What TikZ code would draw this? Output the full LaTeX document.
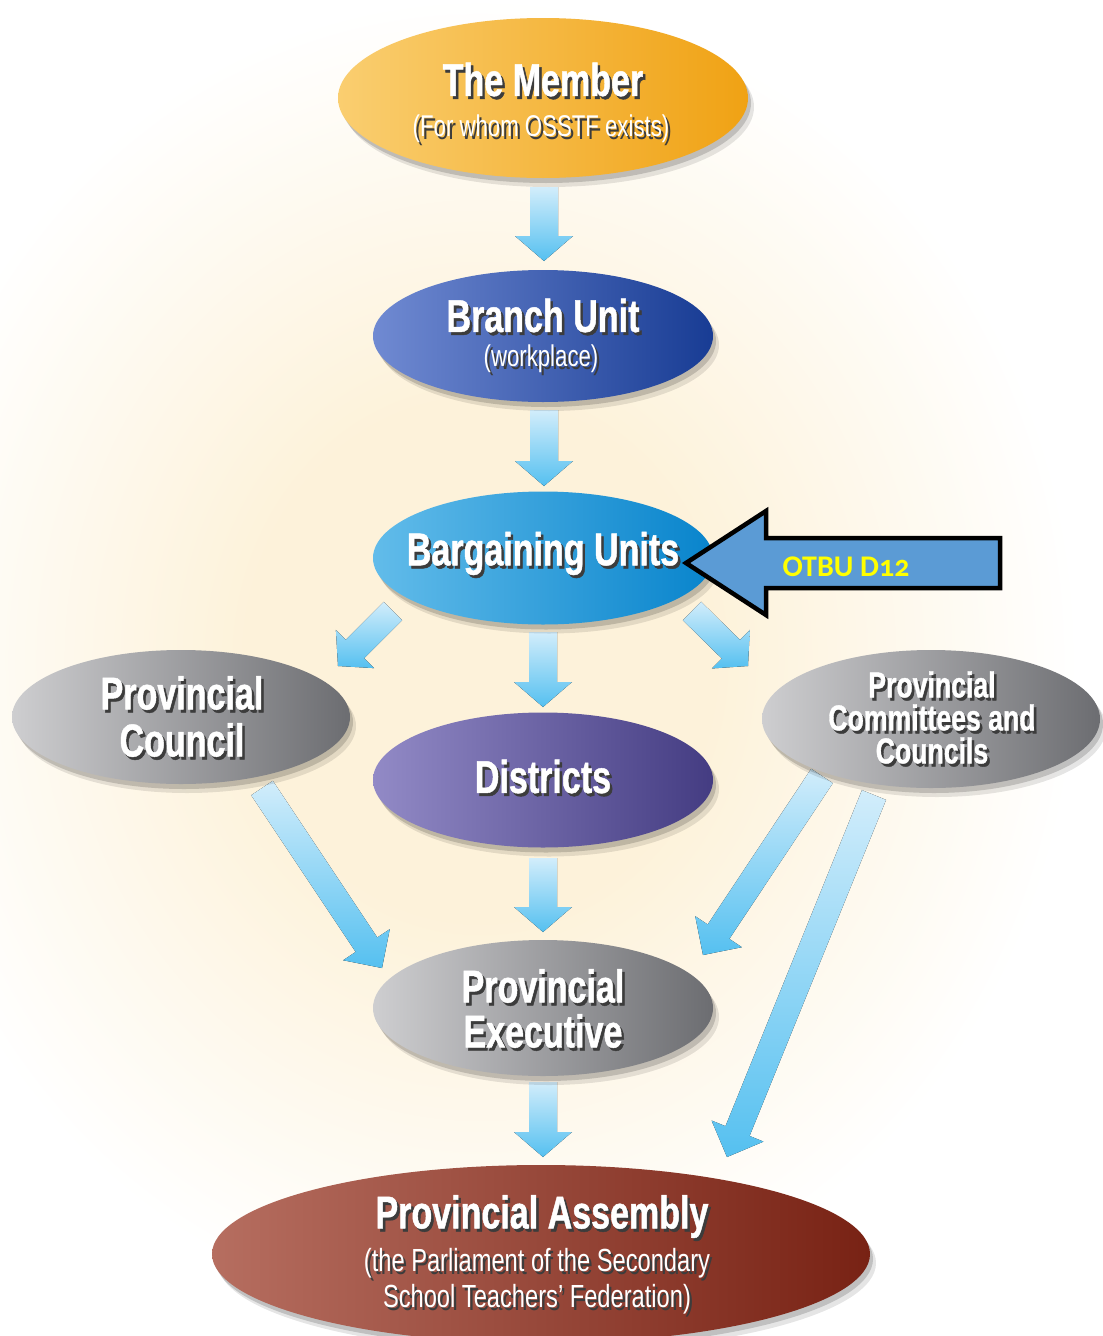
\documentclass[tikz,border=0pt]{standalone}
\usepackage{fontspec}
\setmainfont{Liberation Sans}
\newfontfamily\condb[FakeStretch=0.74,FakeBold=1]{Liberation Sans Bold}
\newfontfamily\condr[FakeStretch=0.74]{Liberation Sans}
\newfontfamily\calib[Numbers=OldStyle]{Carlito}
\usetikzlibrary{shapes.geometric,shadows,calc}
\definecolor{bgc}{HTML}{FDF2DA}
\definecolor{arrlight}{HTML}{D2EDFB}
\definecolor{arrdark}{HTML}{55C0F0}
\definecolor{txtshadow}{HTML}{3C3C3C}
\definecolor{calloutfill}{HTML}{5B9BD5}
\definecolor{calloutyellow}{HTML}{FFFF00}
\pgfdeclareradialshading{glow}{\pgfpoint{0bp}{0bp}}{color(0bp)=(bgc); color(9bp)=(bgc); color(23bp)=(white); color(25bp)=(white); color(50bp)=(white)}
\newcommand\shtxt[1]{\makebox[0pt][l]{\kern2.5pt\raisebox{-3pt}{\textcolor{txtshadow}{#1}}}#1}
\tikzset{
  oval/.style={ellipse, inner sep=0pt,
    drop shadow={shadow xshift=6pt, shadow yshift=-9pt, opacity=0.10, fill=black},
    drop shadow={shadow xshift=3pt, shadow yshift=-5pt, opacity=0.16, fill=black}},
  ttl/.style={text=white, inner sep=0pt, align=center,
    font=\condb\fontsize{46}{47}\selectfont},
  subttl/.style={text=white, inner sep=0pt, align=center,
    font=\condr\fontsize{30}{36}\selectfont},
  fatarrow/.style={shading=axis, top color=arrlight, bottom color=arrdark, draw=none},
  callout/.style={line width=4.5pt, line join=miter, draw=black, fill=calloutfill},
}
% #1 from, #2 to, #3 shaft half width, #4 head half width, #5 head length
\newcommand\fatarr[5]{%
  \coordinate (#1-#2-h) at ($(#2)!#5!(#1)$);
  \fill[fatarrow] ($(#1)!#3!90:(#2)$) -- ($(#1-#2-h)!#3!90:(#2)$) -- ($(#1-#2-h)!#4!90:(#2)$)
    -- (#2) -- ($(#1-#2-h)!#4!-90:(#2)$) -- ($(#1-#2-h)!#3!-90:(#2)$) -- ($(#1)!#3!-90:(#2)$) -- cycle;
}
\begin{document}
\begin{tikzpicture}[x=1pt,y=-1pt]
\useasboundingbox (0,0) rectangle (1103,1336);
\begin{scope}
  \clip (0,0) rectangle (1103,1336);
  \fill[white] (0,0) rectangle (1103,1336);
  \shade[shading=glow] (480,660) ellipse [x radius=650, y radius=720];
\end{scope}

% arrow end points
\coordinate (a1) at (544,187);  \coordinate (a2) at (544,261);
\coordinate (b1) at (544,410);  \coordinate (b2) at (544,486);
\coordinate (c1) at (543,632);  \coordinate (c2) at (543,707);
\coordinate (d1) at (393,611);  \coordinate (d2) at (338,666);
\coordinate (e1) at (692,611);  \coordinate (e2) at (748,666);
\coordinate (f1) at (543,858);  \coordinate (f2) at (543,932);
\coordinate (g1) at (262,788);  \coordinate (g2) at (382,968);
\coordinate (h1) at (822,776);  \coordinate (h2) at (703,955);
\coordinate (i1) at (874,795);  \coordinate (i2) at (727,1157);
\coordinate (j1) at (543,1082); \coordinate (j2) at (543,1157);

\fatarr{a1}{a2}{14pt}{29pt}{25pt}
\fatarr{b1}{b2}{14pt}{29pt}{25pt}
\fatarr{c1}{c2}{14pt}{29pt}{25pt}
\fatarr{d1}{d2}{13pt}{27pt}{24pt}
\fatarr{e1}{e2}{13pt}{27pt}{24pt}
\fatarr{f1}{f2}{14pt}{29pt}{25pt}
\fatarr{g1}{g2}{13pt}{28pt}{28pt}
\fatarr{h1}{h2}{13pt}{28pt}{28pt}
\fatarr{i1}{i2}{13pt}{28pt}{28pt}
\fatarr{j1}{j2}{14pt}{29pt}{25pt}

% ovals
\node[oval, minimum width=410pt, minimum height=160pt, left color={rgb,255:red,250;green,206;blue,112}, right color={rgb,255:red,240;green,162;blue,20}] (member) at (543,98) {};
\node[oval, minimum width=340pt, minimum height=132pt, left color={rgb,255:red,112;green,138;blue,210}, right color={rgb,255:red,24;green,60;blue,148}] (branch) at (543,336) {};
\node[oval, minimum width=340pt, minimum height=133pt, left color={rgb,255:red,98;green,188;blue,234}, right color={rgb,255:red,8;green,132;blue,204}] (bargain) at (543,558) {};
\node[oval, minimum width=338pt, minimum height=134pt, left color={rgb,255:red,206;green,206;blue,208}, right color={rgb,255:red,108;green,109;blue,113}] (pcouncil) at (181,717) {};
\node[oval, minimum width=340pt, minimum height=135pt, left color={rgb,255:red,146;green,138;blue,198}, right color={rgb,255:red,68;green,60;blue,130}] (districts) at (543,780) {};
\node[oval, minimum width=338pt, minimum height=138pt, left color={rgb,255:red,206;green,206;blue,208}, right color={rgb,255:red,108;green,109;blue,113}] (pcomm) at (931,719) {};
\node[oval, minimum width=340pt, minimum height=136pt, left color={rgb,255:red,206;green,206;blue,208}, right color={rgb,255:red,108;green,109;blue,113}] (pexec) at (543,1008) {};
\node[oval, minimum width=658pt, minimum height=178pt, left color={rgb,255:red,182;green,110;blue,96}, right color={rgb,255:red,120;green,34;blue,20}] (assembly) at (541,1254) {};

% texts
\node[ttl] (member-t) at (543,81) {\shtxt{The Member}};
\node[subttl] (member-s) at (541,130) {\shtxt{(For whom OSSTF exists)}};
\node[ttl] (branch-t) at (543,317) {\shtxt{Branch Unit}};
\node[subttl] (branch-s) at (541,360) {\shtxt{(workplace)}};
\node[ttl] (bargain-t) at (543,555) {\shtxt{Bargaining Units}};
\node[ttl] (pcouncil-t) at (182,718) {\shtxt{Provincial}\\\shtxt{Council}};
\node[ttl] (districts-t) at (543,778) {\shtxt{Districts}};
\node[ttl, font=\condb\fontsize{36}{33}\selectfont] (pcomm-t) at (932,719) {\shtxt{Provincial}\\\shtxt{Committees and}\\\shtxt{Councils}};
\node[ttl, font=\condb\fontsize{46}{45}\selectfont] (pexec-t) at (543,1010) {\shtxt{Provincial}\\\shtxt{Executive}};
\node[ttl] (assembly-t) at (542,1218) {\shtxt{Provincial Assembly}};
\node[subttl, font=\condr\fontsize{32}{36}\selectfont] (assembly-s) at (537,1283) {\shtxt{(the Parliament of the Secondary}\\\shtxt{School Teachers’ Federation)}};

% callout arrow
\draw[callout] (686,563) -- (766,511) -- (766,538) -- (1000,538) -- (1000,588) -- (766,588) -- (766,615) -- cycle;
\node[text=calloutyellow, font=\calib\bfseries\fontsize{30}{30}\selectfont, inner sep=0pt] (otbu) at (846,567) {OTBU D12};
\end{tikzpicture}
\end{document}
